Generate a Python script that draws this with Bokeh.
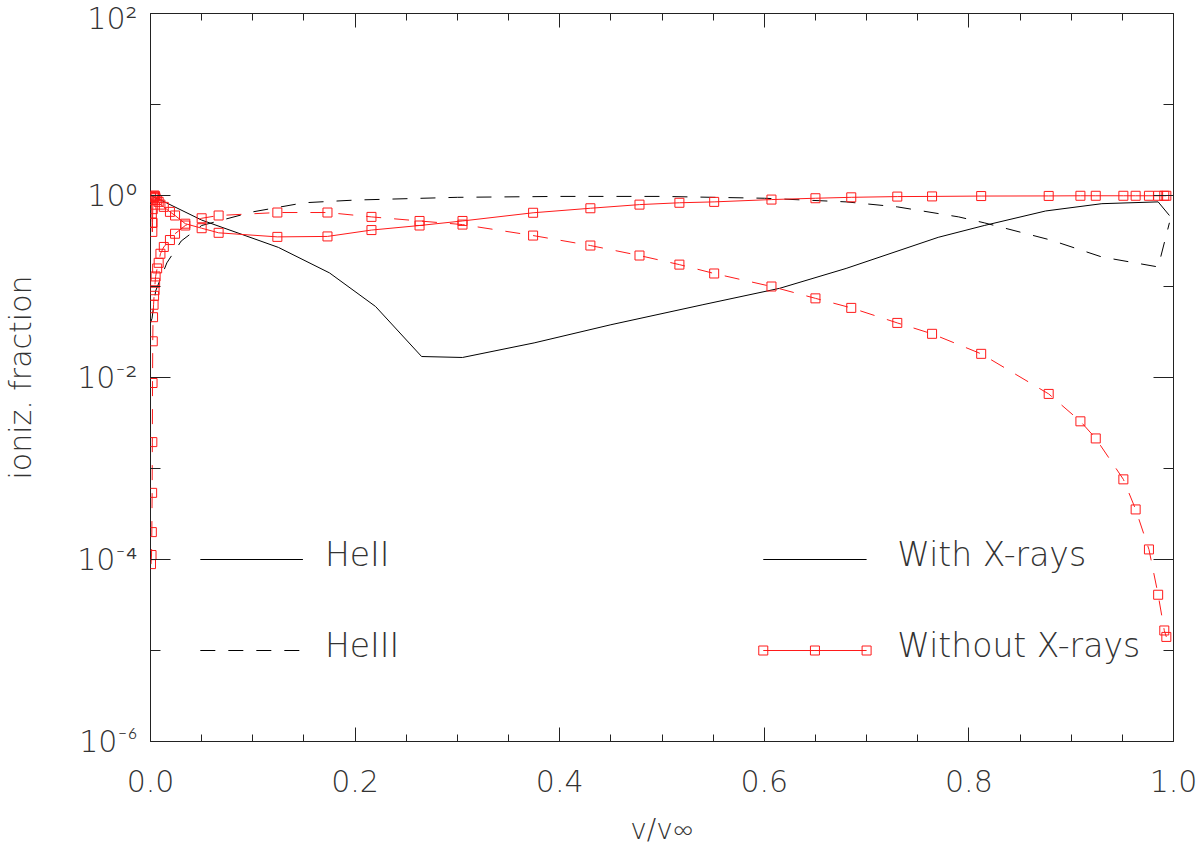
import numpy as np
from bokeh.plotting import figure
from bokeh.models import (Range1d, LinearAxis, LogAxis, FixedTicker,
                          CustomJSTickFormatter, ColumnDataSource)
from bokeh.core.properties import value
from bokeh.embed import file_html
from bokeh.resources import INLINE

# ---------------- data ----------------
# With X-rays (black curves)
v_xray_heii = [0.0, 0.01, 0.05, 0.125, 0.175, 0.22, 0.265, 0.305, 0.375, 0.45,
               0.54, 0.615, 0.68, 0.77, 0.815, 0.875, 0.93, 0.985, 0.996]
f_xray_heii = [1.0, 0.891, 0.537, 0.269, 0.141, 0.0603, 0.0170, 0.0166, 0.0240, 0.0380,
               0.0631, 0.0955, 0.158, 0.347, 0.468, 0.676, 0.813, 0.851, 0.603]

v_xray_heiii = [0.0, 0.0015, 0.005, 0.016, 0.03, 0.05, 0.1, 0.15, 0.2, 0.3, 0.4,
                0.5, 0.6, 0.68, 0.73, 0.79, 0.815, 0.88, 0.93, 0.985, 0.996]
f_xray_heiii = [0.0398, 0.0447, 0.0891, 0.182, 0.316, 0.468, 0.661, 0.832, 0.891, 0.955, 0.977,
                0.977, 0.933, 0.851, 0.750, 0.582, 0.501, 0.324, 0.211, 0.164, 0.501]

# Without X-rays (red curves, squares at model depth points)
v_noxray = [0.0005, 0.0010, 0.0013, 0.0016, 0.0018, 0.0020, 0.0022, 0.0025, 0.0030, 0.0035,
            0.0040, 0.0045, 0.0050, 0.0065, 0.0080, 0.0097, 0.013, 0.019, 0.024, 0.034,
            0.050, 0.0666, 0.124, 0.173, 0.216, 0.263, 0.305, 0.374, 0.430, 0.478,
            0.517, 0.551, 0.607, 0.650, 0.685, 0.730, 0.764, 0.812, 0.878, 0.909,
            0.924, 0.951, 0.963, 0.976, 0.985, 0.991, 0.993]
f_noxray_heii = [0.955, 0.891, 0.631, 0.501, 0.398, 0.501, 0.708, 0.891, 0.955, 0.977,
                 1.0, 0.977, 0.933, 0.891, 0.851, 0.794, 0.750, 0.661, 0.603, 0.490,
                 0.437, 0.389, 0.351, 0.355, 0.417, 0.468, 0.525, 0.646, 0.724, 0.794,
                 0.832, 0.851, 0.902, 0.933, 0.955, 0.973, 0.977, 0.986, 0.989, 0.993,
                 0.993, 0.993, 0.993, 0.993, 0.993, 0.993, 0.993]
f_noxray_heiii = [8.9e-5, 1.12e-4, 2.0e-4, 5.4e-4, 1.95e-3, 8.7e-3, 0.025, 0.046, 0.063, 0.079,
                  0.091, 0.110, 0.129, 0.158, 0.182, 0.229, 0.272, 0.324, 0.380, 0.468,
                  0.562, 0.603, 0.650, 0.650, 0.582, 0.525, 0.479, 0.363, 0.282, 0.219,
                  0.174, 0.139, 0.100, 0.0741, 0.0582, 0.0398, 0.0302, 0.0182, 6.6e-3, 3.3e-3,
                  2.14e-3, 7.6e-4, 3.55e-4, 1.29e-4, 4.1e-5, 1.66e-5, 1.41e-5]

x_major_ticks = [0.0, 0.2, 0.4, 0.6, 0.8, 1.0]
x_tick_labels = ["0.0", "0.2", "0.4", "0.6", "0.8", "1.0"]
y_major_ticks = [1e-6, 1e-4, 1e-2, 1.0, 1e2]
y_tick_labels = ["10\u207b\u2076", "10\u207b\u2074", "10\u207b\u00b2", "10\u2070", "10\u00b2"]
y_minor_ticks = [1e-5, 1e-3, 1e-1, 1e1]
species_labels = ["HeII", "HeIII"]
model_labels = ["With X-rays", "Without X-rays"]
x_title = "v/v\u221e"
y_title = "ioniz. fraction"

# ---------------- styling / layout ----------------
FONT = "'DejaVu Sans ExtraLight', 'DejaVu Sans Light', 'Lato Light', Lato, sans-serif"
TXT = "#333333"
RED = "#ff1a1a"
DASH = "15 13"

p = figure(width=1200, height=848, x_range=Range1d(0, 1), y_range=Range1d(1e-6, 1e2),
           y_axis_type="log", output_backend="svg", toolbar_location=None,
           min_border_left=147, min_border_right=27, min_border_top=13, min_border_bottom=107)
p.background_fill_color = "white"
p.border_fill_color = "white"
p.outline_line_color = "#222222"
p.outline_line_width = 1
p.xgrid.visible = False
p.ygrid.visible = False

x_minor = [float(v) for v in np.round(np.arange(0, 1.0001, 0.05), 3)]

def lbl_formatter(tk, lb, log=False):
    if log:
        code = ("const i = tk.findIndex(t => Math.abs(Math.log10(t) - Math.log10(tick)) < 1e-6);"
                "return i >= 0 ? lb[i] : '';")
    else:
        code = ("const i = tk.findIndex(t => Math.abs(t - tick) < 1e-9);"
                "return i >= 0 ? lb[i] : '';")
    return CustomJSTickFormatter(args=dict(tk=tk, lb=lb), code=code)

def blank():
    return CustomJSTickFormatter(code="return '';")

def style_axis(ax, tin, min_in):
    ax.axis_line_color = None
    ax.major_tick_in = tin
    ax.major_tick_out = 0
    ax.minor_tick_in = min_in
    ax.minor_tick_out = 0
    ax.major_tick_line_color = "#222222"
    ax.minor_tick_line_color = "#222222"
    ax.major_label_text_font = FONT
    ax.major_label_text_color = TXT
    ax.major_label_text_font_size = "30px"
    ax.axis_label_text_font = FONT
    ax.axis_label_text_color = TXT
    ax.axis_label_text_font_style = "normal"

xb = p.xaxis[0]
xb.ticker = FixedTicker(ticks=x_major_ticks, minor_ticks=x_minor)
xb.formatter = lbl_formatter(x_major_ticks, x_tick_labels)
style_axis(xb, 14, 7)
xb.major_label_standoff = 28
xb.axis_label = x_title
xb.axis_label_text_font_size = "28px"
xb.axis_label_standoff = 18

yl = p.yaxis[0]
yl.ticker = FixedTicker(ticks=y_major_ticks, minor_ticks=y_minor_ticks)
yl.formatter = lbl_formatter(y_major_ticks, y_tick_labels, log=True)
style_axis(yl, 20, 10)
yl.major_label_standoff = 13
yl.axis_label = y_title
yl.axis_label_text_font_size = "30px"
yl.axis_label_standoff = 36

xt = LinearAxis(ticker=FixedTicker(ticks=x_major_ticks, minor_ticks=x_minor), formatter=blank())
style_axis(xt, 14, 7)
xt.major_label_standoff = 0
xt.major_label_text_font_size = "1px"
p.add_layout(xt, "above")

yr = LogAxis(ticker=FixedTicker(ticks=y_major_ticks, minor_ticks=y_minor_ticks), formatter=blank())
style_axis(yr, 20, 10)
yr.major_label_standoff = 0
yr.major_label_text_font_size = "1px"
p.add_layout(yr, "right")

# ---------------- curves ----------------
p.line(v_xray_heii, f_xray_heii, line_color="black", line_width=1)
p.line(v_xray_heiii, f_xray_heiii, line_color="black", line_width=1, line_dash=DASH)

src_nx = ColumnDataSource(dict(v=v_noxray, heii=f_noxray_heii, heiii=f_noxray_heiii))
p.line("v", "heii", source=src_nx, line_color=RED, line_width=1)
p.line("v", "heiii", source=src_nx, line_color=RED, line_width=1, line_dash=DASH)
p.scatter("v", "heii", source=src_nx, marker="square", size=9, fill_color=None,
          line_color=RED, line_width=1)
p.scatter("v", "heiii", source=src_nx, marker="square", size=9, fill_color=None,
          line_color=RED, line_width=1)

# ---------------- in-plot legend ----------------
leg_rows = [1e-4, 1e-5]
leg_left = (0.0487, 0.149, 0.1705)
leg_right = (0.599, 0.700, 0.730)

p.line([leg_left[0], leg_left[1]], [leg_rows[0]] * 2, line_color="black", line_width=1)
p.line([leg_left[0], leg_left[1]], [leg_rows[1]] * 2, line_color="black", line_width=1,
       line_dash=DASH)
p.line([leg_right[0], leg_right[1]], [leg_rows[0]] * 2, line_color="black", line_width=1)
mx = [leg_right[0], (leg_right[0] + leg_right[1]) / 2, leg_right[1]]
p.line(mx, [leg_rows[1]] * 3, line_color=RED, line_width=1)
p.scatter(mx, [leg_rows[1]] * 3, marker="square", size=9, fill_color=None,
          line_color=RED, line_width=1)

leg_src = ColumnDataSource(dict(
    x=[leg_left[2], leg_left[2], leg_right[2], leg_right[2]],
    y=[leg_rows[0], leg_rows[1], leg_rows[0], leg_rows[1]],
    t=species_labels + model_labels))
p.text("x", "y", text="t", source=leg_src, text_font=value(FONT), text_font_size="33px",
       text_color=TXT, text_align="left", text_baseline="middle", y_offset=-5)

open("out.html", "w").write(file_html(p, INLINE))
